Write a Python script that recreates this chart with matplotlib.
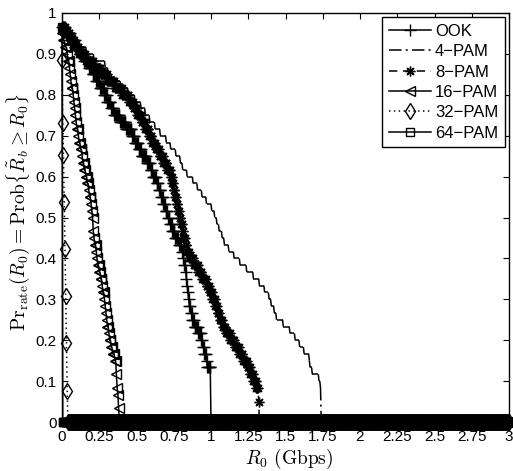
import numpy as np
import matplotlib
matplotlib.use('Agg')
import matplotlib.pyplot as plt
from matplotlib.collections import LineCollection
from matplotlib.lines import Line2D

plt.rcParams['font.family'] = ['Liberation Sans', 'DejaVu Sans']
plt.rcParams['mathtext.fontset'] = 'cm'
plt.rcParams['lines.scale_dashes'] = False

# Achieved-rate samples (Gbps)
ook_rates = [0, 0, 0.023, 0.057, 0.090, 0.120, 0.150, 0.177, 0.203, 0.227,
             0.254, 0.282, 0.304, 0.326, 0.349, 0.389, 0.429, 0.467, 0.490, 0.512,
             0.534, 0.568, 0.593, 0.608, 0.632, 0.649, 0.664, 0.679, 0.694, 0.710,
             0.725, 0.740, 0.760, 0.782, 0.803, 0.814, 0.820, 0.826, 0.832, 0.837,
             0.842, 0.847, 0.855, 0.865, 0.875, 0.890, 0.911, 0.931, 0.943, 0.955,
             0.966, 0.975, 1.0, 1.0, 1.0, 1.0, 1.0, 1.0, 1.0, 1.0]
pam4_rates = [0, 0, 0.029, 0.071, 0.114, 0.162, 0.215, 0.290, 0.307, 0.332,
              0.392, 0.442, 0.488, 0.529, 0.558, 0.587, 0.623, 0.659, 0.696, 0.730,
              0.763, 0.793, 0.806, 0.837, 0.876, 0.908, 0.939, 0.970, 1.001, 1.022,
              1.038, 1.055, 1.072, 1.088, 1.120, 1.153, 1.193, 1.239, 1.284, 1.321,
              1.358, 1.387, 1.404, 1.421, 1.439, 1.483, 1.530, 1.561, 1.591, 1.622,
              1.660, 1.665, 1.676, 1.721, 1.731, 1.74, 1.74, 1.74, 1.74, 1.74]
pam8_rates = [0, 0, 0.022, 0.053, 0.083, 0.114, 0.159, 0.208, 0.256, 0.305,
              0.353, 0.402, 0.450, 0.479, 0.505, 0.531, 0.557, 0.581, 0.605, 0.628,
              0.653, 0.677, 0.703, 0.726, 0.736, 0.746, 0.757, 0.767, 0.777, 0.787,
              0.796, 0.806, 0.815, 0.826, 0.839, 0.853, 0.882, 0.911, 0.940, 0.966,
              0.987, 1.008, 1.028, 1.044, 1.060, 1.076, 1.100, 1.129, 1.157, 1.186,
              1.215, 1.243, 1.263, 1.284, 1.304, 1.318, 1.318, 1.323, 1.323, 1.323]
pam16_rates = [0, 0, 0, 0.006, 0.019, 0.031, 0.039, 0.048, 0.054, 0.059,
               0.065, 0.071, 0.076, 0.081, 0.086, 0.092, 0.099, 0.107, 0.115, 0.122,
               0.131, 0.139, 0.148, 0.157, 0.166, 0.176, 0.185, 0.192, 0.197, 0.201,
               0.206, 0.210, 0.215, 0.220, 0.226, 0.233, 0.240, 0.248, 0.257, 0.266,
               0.275, 0.282, 0.288, 0.294, 0.300, 0.305, 0.311, 0.317, 0.327, 0.340,
               0.353, 0.361, 0.364, 0.366, 0.369, 0.372, 0.376, 0.380, 0.385, 0.385]
pam32_rates = [0, 0, 0, 0.003, 0.003, 0.004, 0.0045, 0.008, 0.009, 0.012,
               0.013, 0.014, 0.017, 0.018, 0.019, 0.022, 0.023, 0.024, 0.027, 0.028,
               0.029, 0.032, 0.033, 0.034, 0.037, 0.038]
pam64_rates = [0] + [0.002] * 29

labels = ['OOK', '4\u2212PAM', '8\u2212PAM', '16\u2212PAM', '32\u2212PAM', '64\u2212PAM']
xticks = [0, 0.25, 0.5, 0.75, 1, 1.25, 1.5, 1.75, 2, 2.25, 2.5, 2.75, 3]
xticklabels = ['0', '0.25', '0.5', '0.75', '1', '1.25', '1.5', '1.75', '2',
               '2.25', '2.5', '2.75', '3']
yticks = [0, 0.1, 0.2, 0.3, 0.4, 0.5, 0.6, 0.7, 0.8, 0.9, 1]
yticklabels = ['0', '0.1', '0.2', '0.3', '0.4', '0.5', '0.6', '0.7', '0.8', '0.9', '1']

R0 = np.linspace(0, 3, 601)


def ccdf(samples):
    s = np.asarray(samples, dtype=float)
    return (s[:, None] > R0[None, :] + 1e-9).mean(axis=0)


DASHDOT = (0, (9, 3, 1.5, 3))
styles = [
    dict(ls='-', marker='+', ms=8),
    dict(ls=DASHDOT, marker=None),
    dict(ls=(0, (6, 4)), marker=(8, 2, 0), ms=7),
    dict(ls='-', marker='<', ms=7, mfc='none'),
    dict(ls=(0, (1, 2.5)), marker='d', ms=8, mfc='none'),
    dict(ls='-', marker='s', ms=5.5, mfc='none'),
]
series = [ook_rates, pam4_rates, pam8_rates, pam16_rates, pam32_rates, pam64_rates]

fig = plt.figure(figsize=(5.13, 4.71), dpi=100)
ax = fig.add_axes([62 / 513, 1 - 422 / 471, (509 - 62) / 513, (422 - 13) / 471])

LW = 1.1
handles = []
for s, st, lab in zip(series, styles, labels):
    p = ccdf(s)
    if st['marker'] is None:
        # MATLAB restarts the dash pattern on every segment
        pts = np.column_stack([R0, p])
        segs = np.stack([pts[:-1], pts[1:]], axis=1)
        lc = LineCollection(segs, colors='black', linewidths=LW,
                            linestyles=[st['ls']], clip_on=False)
        ax.add_collection(lc)
        h = Line2D([], [], color='black', lw=LW, ls=st['ls'], label=lab)
    else:
        h, = ax.plot(R0, p, color='black', lw=LW, mew=1.0, label=lab,
                     clip_on=False, **st)
    handles.append(h)

ax.set_xlim(0, 3)
ax.set_ylim(0, 1)
ax.set_xticks(xticks)
ax.set_xticklabels(xticklabels)
ax.set_yticks(yticks)
ax.set_yticklabels(yticklabels)
ax.tick_params(direction='in', top=True, right=True, length=4, width=0.8,
               labelsize=11)
ax.tick_params(axis='x', pad=6)
ax.tick_params(axis='y', pad=4)
for sp in ax.spines.values():
    sp.set_linewidth(1.0)

ax.set_xlabel(r'$R_0\ \mathrm{(Gbps)}$', fontsize=14)
ax.xaxis.set_label_coords(0.508, -0.062)
ax.set_ylabel(r'$\mathrm{Pr}_{\mathrm{rate}}(R_0) = \mathrm{Prob}\{\tilde{R}_b \geq R_0\}$',
              fontsize=14)
ax.yaxis.set_label_coords(-0.066, 0.513)

leg = ax.legend(handles=handles, loc='upper right', fontsize=12, frameon=True,
                fancybox=False, framealpha=1, edgecolor='black', numpoints=1,
                borderaxespad=0.25, handlelength=2.5, handletextpad=0.25,
                labelspacing=0.32, borderpad=0.4)
leg.get_frame().set_linewidth(1.0)

fig.savefig('out.png', dpi=100)
